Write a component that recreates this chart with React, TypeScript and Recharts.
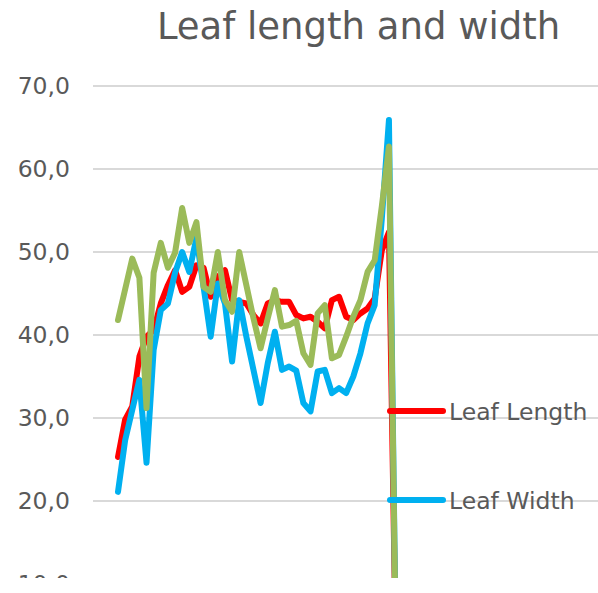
import { LineChart, Line, XAxis, YAxis, CartesianGrid, Legend } from 'recharts';

// sample number along the (hidden) category axis
const sampleNo = [
  1, 2, 3, 4, 5, 6, 7, 8, 9, 10, 11, 12, 13, 14, 15, 16, 17, 18, 19, 20,
  21, 22, 23, 24, 25, 26, 27, 28, 29, 30, 31, 32, 33, 34, 35, 36, 37, 38, 39, 40,
];

const leafLength = [
  25.3, 29.8, 31.4, 37.4, 39.8, 40.6, 43.8, 46.0, 47.8, 45.2,
  45.8, 48.4, 48.1, 44.6, 47.0, 47.8, 44.2, 44.0, 43.8, 42.4,
  41.4, 43.8, 44.2, 44.0, 44.0, 42.4, 42.0, 42.2, 41.6, 40.8,
  44.2, 44.6, 42.2, 41.8, 42.6, 43.2, 44.4, 50.2, 52.4, 0,
];

const leafWidth = [
  21.1, 27.3, 31.0, 34.6, 24.6, 38.2, 43.0, 43.8, 47.5, 50.0,
  47.6, 51.7, 45.8, 39.8, 46.2, 43.8, 36.8, 44.2, 39.8, 35.8,
  31.8, 36.6, 40.4, 35.8, 36.2, 35.7, 31.8, 30.8, 35.6, 35.8,
  33.0, 33.6, 33.0, 35.0, 37.8, 41.4, 43.6, 54.0, 65.9, 0,
];

// third series, its legend entry is cut off below the picture
const series3 = [
  41.8, 45.5, 49.2, 46.9, 31.2, 47.5, 51.1, 48.1, 49.9, 55.3,
  51.1, 53.6, 45.8, 45.2, 50.0, 44.2, 42.8, 50.0, 46.0, 42.0,
  38.4, 42.0, 45.4, 41.0, 41.2, 41.7, 37.8, 36.4, 42.6, 43.6,
  37.2, 37.6, 39.8, 42.2, 44.2, 47.6, 49.0, 55.5, 62.7, 0,
];

const yTicks = [0, 10, 20, 30, 40, 50, 60, 70];

const data = sampleNo.map((n, i) => ({
  n,
  length: leafLength[i],
  width: leafWidth[i],
  s3: series3[i],
}));

const FONT = '"DejaVu Sans", Verdana, sans-serif';
const TEXT = '#595959';

const renderLegend = (props: any) => {
  const items = props.payload || [];
  return (
    <svg width={213} height={230} style={{ overflow: 'visible' }}>
      {items.map((p: any, k: number) => (
        <g key={k}>
          <line x1={5} x2={58} y1={31 + 89 * k} y2={31 + 89 * k} stroke={p.color} strokeWidth={6} strokeLinecap="round" />
          <text x={64} y={40 + 89 * k} fill={TEXT} fontSize={23.5} fontFamily={FONT}>{p.value}</text>
        </g>
      ))}
    </svg>
  );
};

export default function App() {
  return (
    <div style={{ position: 'absolute', left: 0, top: 0, width: 598, height: 578, overflow: 'hidden', background: '#fff' }}>
      <LineChart width={598} height={700} data={data} margin={{ top: 86, right: 0, bottom: 33, left: 0 }}>
        <CartesianGrid vertical={false} stroke="#D9D9D9" strokeWidth={2} />
        <XAxis dataKey="n" type="number" domain={[-2.506, 68.32]} allowDataOverflow hide />
        <YAxis
          width={93}
          domain={[0, 70]}
          ticks={yTicks}
          axisLine={false}
          tickLine={false}
          tickMargin={17}
          tick={{ fill: TEXT, fontSize: 23.5, fontFamily: FONT }}
          tickFormatter={(v: number) => v.toFixed(1).replace('.', ',')}
        />
        <Legend
          layout="horizontal"
          verticalAlign="middle"
          align="center"
          content={renderLegend}
          wrapperStyle={{ position: 'absolute', left: 385, top: 380, width: 213, height: 230 }}
        />
        <Line dataKey="length" name="Leaf Length" stroke="#FF0000" strokeWidth={6} dot={false} strokeLinejoin="round" strokeLinecap="round" isAnimationActive={false} />
        <Line dataKey="width" name="Leaf Width" stroke="#00B0F0" strokeWidth={6} dot={false} strokeLinejoin="round" strokeLinecap="round" isAnimationActive={false} />
        <Line dataKey="s3" name="Series 3" stroke="#9BBB59" strokeWidth={6} dot={false} strokeLinejoin="round" strokeLinecap="round" isAnimationActive={false} />
      </LineChart>
      <svg width={598} height={60} style={{ position: 'absolute', left: 0, top: 0 }}>
        <text x={358.5} y={39} textAnchor="middle" fill={TEXT} fontSize={37} fontFamily={FONT}>Leaf length and width</text>
      </svg>
    </div>
  );
}
